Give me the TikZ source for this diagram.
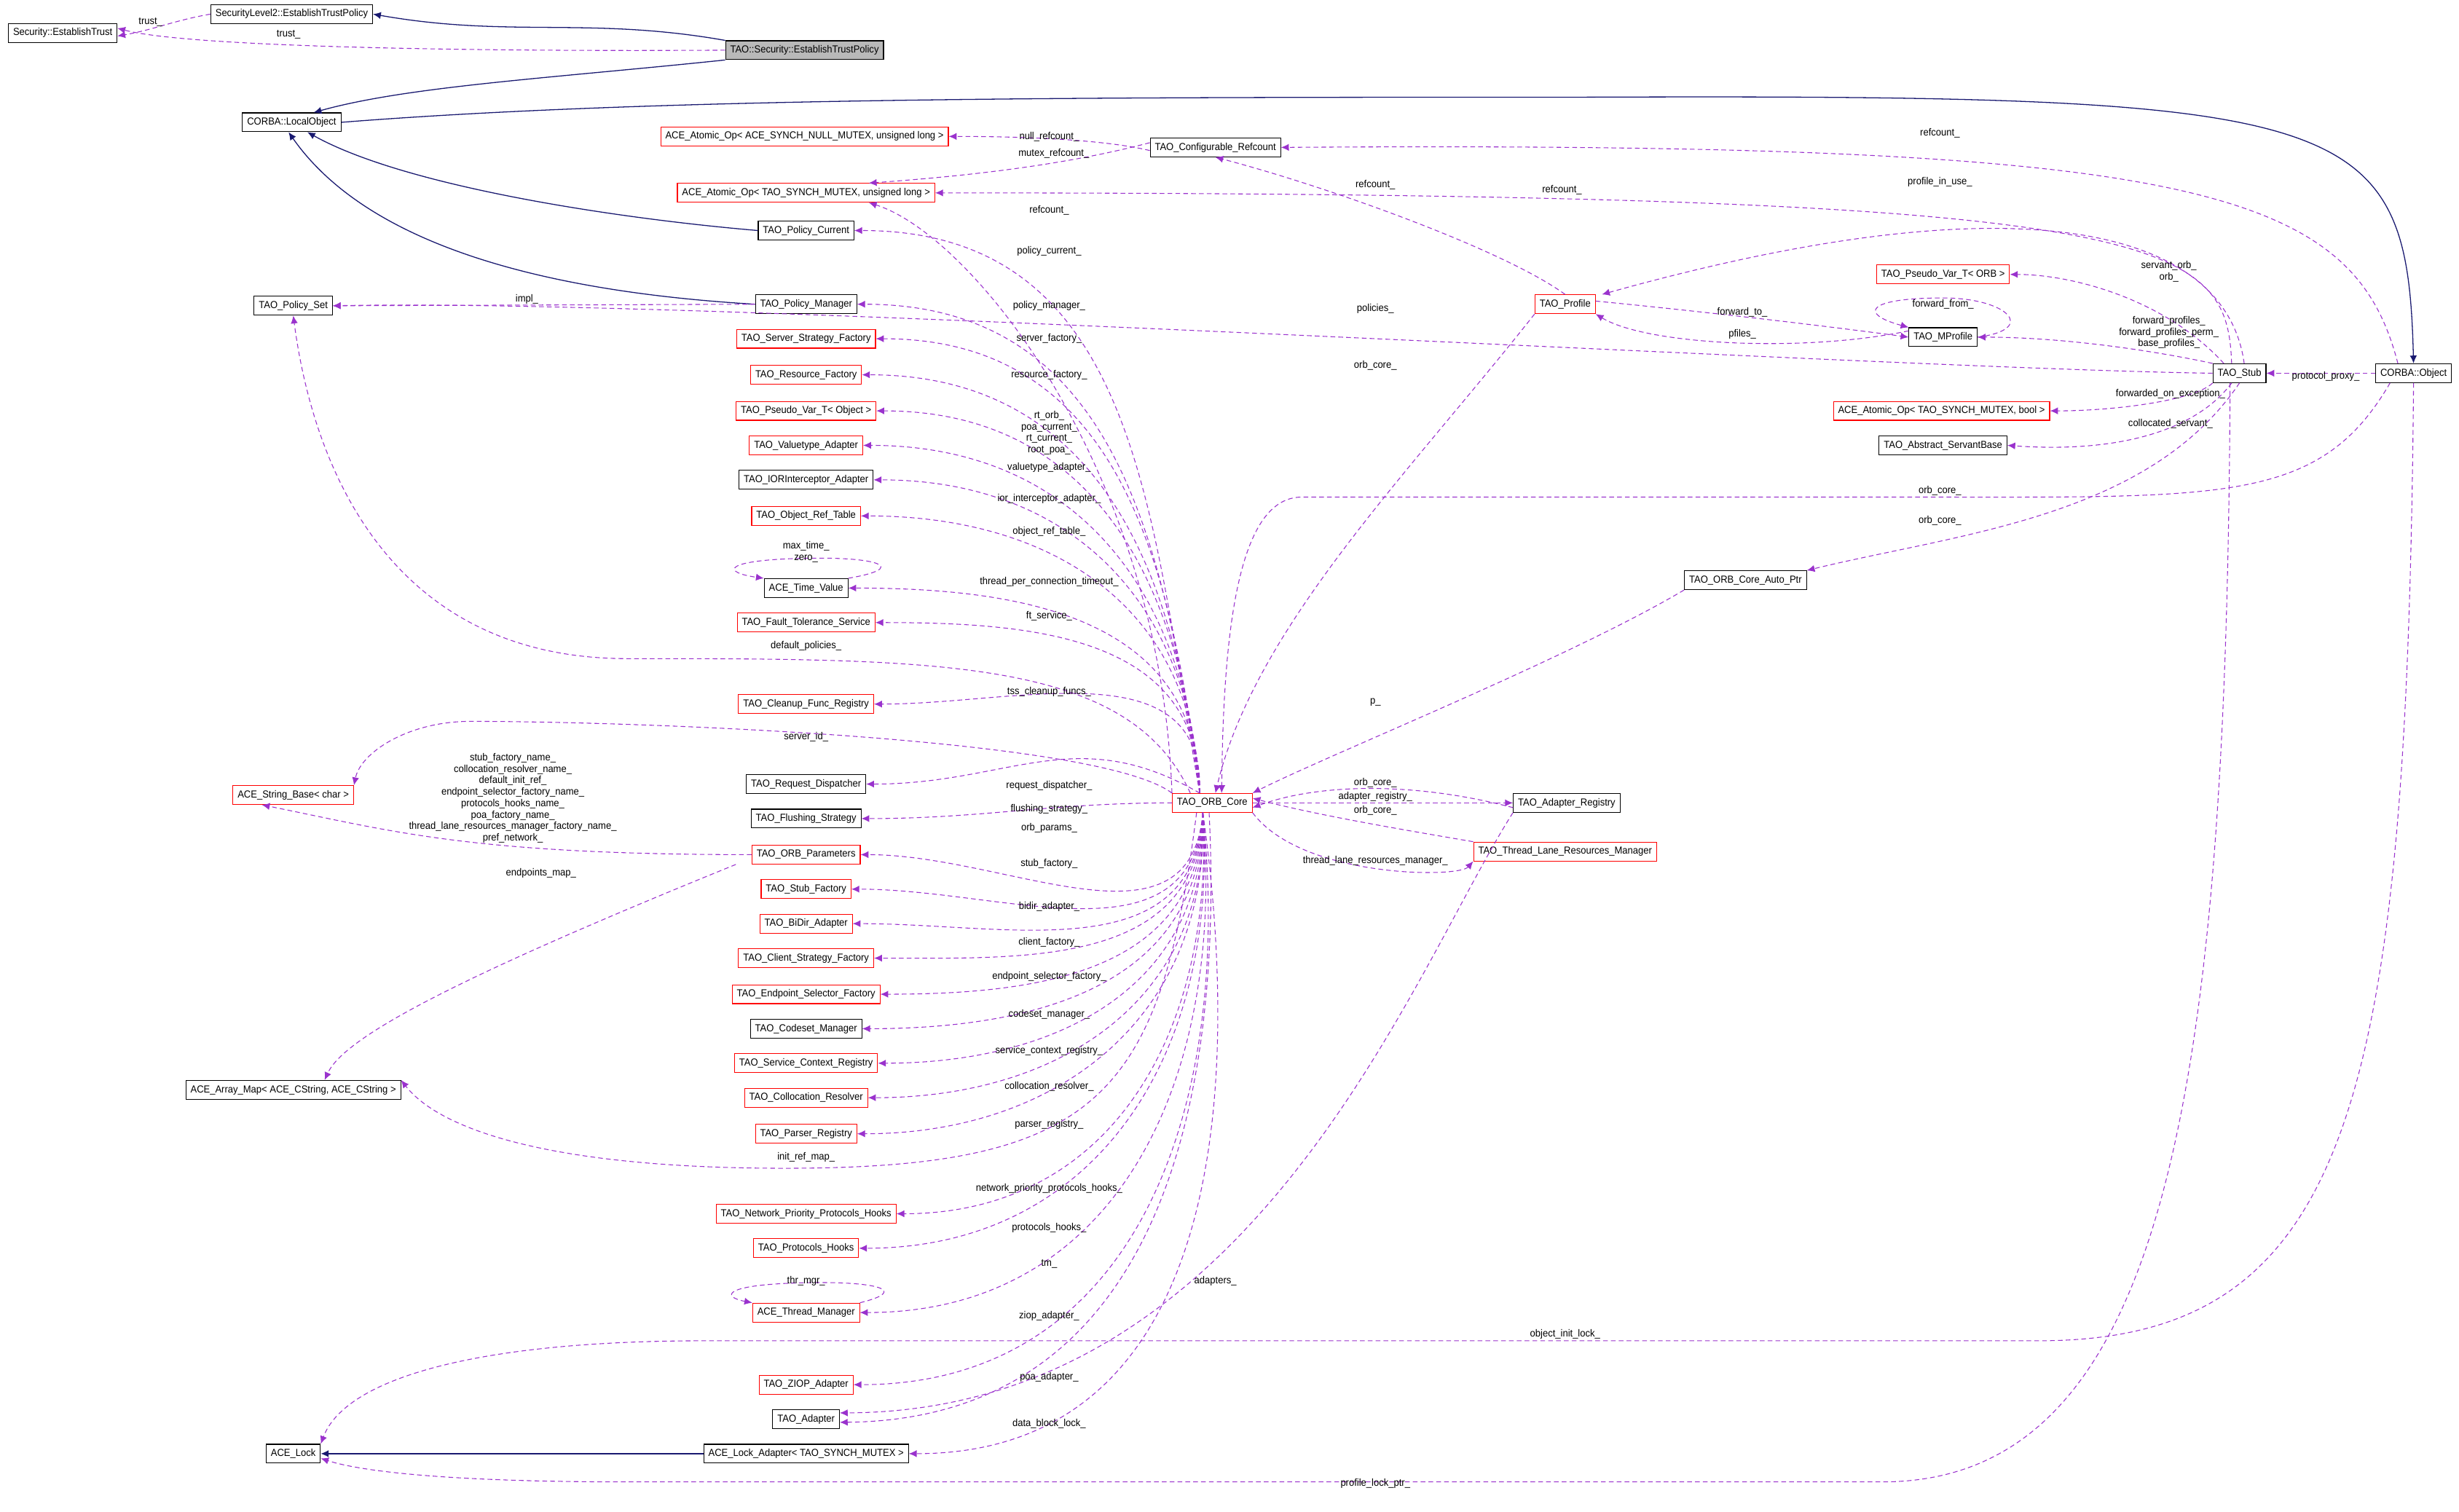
\documentclass[tikz,border=0pt]{standalone}
\usepackage{fontspec}
\setmainfont[FakeStretch=0.93]{Liberation Sans}
\usetikzlibrary{arrows.meta}
\definecolor{usec}{HTML}{9A32CD}
\definecolor{inhc}{HTML}{191970}
\tikzset{
 box/.style={draw,rectangle,inner xsep=3pt,inner ysep=0pt,minimum height=12pt,font=\fontsize{6.5}{7.3}\selectfont,line width=0.5pt},
 rbox/.style={box,draw=red},
 lbl/.style={font=\fontsize{6.5}{7.3}\selectfont,align=center,inner sep=0pt},
 use/.style={draw=usec,dash pattern=on 3pt off 2pt,line width=0.5pt,arrows={-{Latex[length=5pt,width=4.5pt,fill=usec,color=usec]}}},
 inh/.style={draw=inhc,line width=0.6pt,-{Latex[length=5pt,width=4.5pt,color=inhc,fill=inhc]}}
}
\begin{document}
\begin{tikzpicture}[x=1pt,y=-1pt]
\useasboundingbox (0,0) rectangle (1568,964);
% nodes
\node[box] (sl2) at (186,9) {SecurityLevel2::EstablishTrustPolicy};
\node[box] (set) at (40,21) {Security::EstablishTrust};
\node[box,fill=gray!55] (tsec) at (513,32) {TAO::Security::EstablishTrustPolicy};
\node[box] (lo) at (186,78) {CORBA::LocalObject};
\node[rbox] (aonull) at (513,87) {ACE\_Atomic\_Op< ACE\_SYNCH\_NULL\_MUTEX, unsigned long >};
\node[box] (cref) at (775,94) {TAO\_Configurable\_Refcount};
\node[rbox] (aoul) at (514,123) {ACE\_Atomic\_Op< TAO\_SYNCH\_MUTEX, unsigned long >};
\node[box] (pc) at (514,147) {TAO\_Policy\_Current};
\node[box] (pset) at (187,195) {TAO\_Policy\_Set};
\node[box] (pm) at (514,194) {TAO\_Policy\_Manager};
\node[rbox] (prof) at (998,194) {TAO\_Profile};
\node[rbox] (pvorb) at (1239,175) {TAO\_Pseudo\_Var\_T< ORB >};
\node[box] (mprof) at (1239,215) {TAO\_MProfile};
\node[box] (stub) at (1428,238) {TAO\_Stub};
\node[box] (cobj) at (1539,238) {CORBA::Object};
\node[rbox] (ssf) at (514,216) {TAO\_Server\_Strategy\_Factory};
\node[rbox] (rf) at (514,239) {TAO\_Resource\_Factory};
\node[rbox] (pvobj) at (514,262) {TAO\_Pseudo\_Var\_T< Object >};
\node[rbox] (va) at (514,284) {TAO\_Valuetype\_Adapter};
\node[box] (iora) at (514,306) {TAO\_IORInterceptor\_Adapter};
\node[rbox] (ort) at (514,329) {TAO\_Object\_Ref\_Table};
\node[rbox] (aobool) at (1238,262) {ACE\_Atomic\_Op< TAO\_SYNCH\_MUTEX, bool >};
\node[box] (asb) at (1239,284) {TAO\_Abstract\_ServantBase};
\node[box] (tv) at (514,375) {ACE\_Time\_Value};
\node[rbox] (fts) at (514,397) {TAO\_Fault\_Tolerance\_Service};
\node[box] (oap) at (1113,370) {TAO\_ORB\_Core\_Auto\_Ptr};
\node[rbox] (cfr) at (514,449) {TAO\_Cleanup\_Func\_Registry};
\node[rbox] (sb) at (187,507) {ACE\_String\_Base< char >};
\node[box] (rd) at (514,500) {TAO\_Request\_Dispatcher};
\node[rbox] (core) at (773,512) {TAO\_ORB\_Core};
\node[box] (ar) at (999,512) {TAO\_Adapter\_Registry};
\node[box] (fs) at (514,522) {TAO\_Flushing\_Strategy};
\node[rbox] (op) at (514,545) {TAO\_ORB\_Parameters};
\node[rbox] (tlrm) at (998,543) {TAO\_Thread\_Lane\_Resources\_Manager};
\node[rbox] (sf) at (514,567) {TAO\_Stub\_Factory};
\node[rbox] (bda) at (514,589) {TAO\_BiDir\_Adapter};
\node[rbox] (csf) at (514,611) {TAO\_Client\_Strategy\_Factory};
\node[rbox] (esf) at (514,634) {TAO\_Endpoint\_Selector\_Factory};
\node[box] (cm) at (514,656) {TAO\_Codeset\_Manager};
\node[rbox] (scr) at (514,678) {TAO\_Service\_Context\_Registry};
\node[rbox] (cr) at (514,700) {TAO\_Collocation\_Resolver};
\node[box] (am) at (187,695) {ACE\_Array\_Map< ACE\_CString, ACE\_CString >};
\node[rbox] (pr) at (514,723) {TAO\_Parser\_Registry};
\node[rbox] (nph) at (514,774) {TAO\_Network\_Priority\_Protocols\_Hooks};
\node[rbox] (ph) at (514,796) {TAO\_Protocols\_Hooks};
\node[rbox] (tm) at (514,837) {ACE\_Thread\_Manager};
\node[rbox] (zio) at (514,883) {TAO\_ZIOP\_Adapter};
\node[box] (ad) at (514,905) {TAO\_Adapter};
\node[box] (lock) at (187,927) {ACE\_Lock};
\node[box] (la) at (514,927) {ACE\_Lock\_Adapter< TAO\_SYNCH\_MUTEX >};

% inheritance
\draw[inh] (tsec.north west) to[out=170,in=-10] (sl2.east);
\draw[inh] (tsec.south west) .. controls (350,50) and (260,55) .. ([xshift=14pt]lo.north);
\draw[inh] (lo.east) .. controls (420,62) and (700,62) .. (1000,62) .. controls (1500,60) and (1535,70) .. (cobj.north);
\draw[inh] (pc.west) .. controls (400,140) and (260,120) .. ([xshift=10pt]lo.south);
\draw[inh] (pm.west) .. controls (330,185) and (230,150) .. ([xshift=-2pt]lo.south);
\draw[inh] (la.west) -- (lock.east);

% usage
\draw[use] (sl2.west) to[out=190,in=10] ([yshift=-2pt]set.east);
\draw[use] (tsec.west) .. controls (300,33) and (120,30) .. ([yshift=3pt]set.east);
\draw[use] ([yshift=-2pt]cref.west) .. controls (700,88) and (640,87) .. (aonull.east);
\draw[use] ([yshift=3pt]cref.west) .. controls (680,105) and (620,112) .. ([xshift=40pt]aoul.north);
\draw[use] ([xshift=-10pt]cobj.north) .. controls (1500,120) and (1400,90) .. (cref.east);
\draw[use] ([xshift=-5pt]stub.north) .. controls (1420,150) and (1380,123) .. (aoul.east);
\draw[use] (prof.north) .. controls (960,160) and (850,120) .. (cref.south);
\draw[use] (core.north west) .. controls (740,300) and (620,150) .. ([xshift=40pt]aoul.south);
\draw[use] ([xshift=3pt]stub.north) .. controls (1420,150) and (1300,110) .. ([xshift=4pt]prof.north east);
\draw[use] (stub.west) .. controls (1200,235) and (450,190) .. (pset.east);
\draw[use] (pm.west) -- (pset.east);
\draw[use] ([yshift=2pt]prof.east) .. controls (1100,200) and (1180,210) .. (mprof.west);
\draw[use] ([yshift=4pt]mprof.west) .. controls (1150,225) and (1050,220) .. (prof.south east);
\draw[use] (mprof.east) .. controls (1300,210) and (1280,190) .. (1239,190) .. controls (1190,190) and (1185,200) .. (mprof.north west);
\draw[use] ([xshift=-10pt]stub.north) .. controls (1380,190) and (1320,175) .. (pvorb.east);
\draw[use] (stub.north west) .. controls (1380,225) and (1320,215) .. (mprof.east);
\draw[use] (cobj.west) -- (stub.east);
\draw[use] (stub.south west) .. controls (1400,255) and (1350,262) .. (aobool.east);
\draw[use] ([xshift=-5pt]stub.south) .. controls (1400,275) and (1350,289) .. (asb.east);
\draw[use] ([xshift=-15pt]cobj.south) .. controls (1480,320) and (1420,317) .. (1237,317) -- (830,317) .. controls (790,317) and (780,400) .. ([xshift=6pt]core.north);
\draw[use] (stub.south) .. controls (1370,330) and (1250,340) .. (oap.north east);
\draw[use] (prof.south west) .. controls (900,300) and (800,400) .. ([xshift=2pt]core.north);
\draw[use] (oap.south west) .. controls (1000,420) and (850,480) .. (core.north east);
\draw[use] (cobj.south) .. controls (1535,700) and (1500,855) .. (1300,855) -- (450,855) .. controls (300,855) and (220,880) .. (lock.north east);
\draw[use] ([xshift=-6pt]stub.south) .. controls (1420,700) and (1380,945) .. (1200,945) -- (400,945) .. controls (260,945) and (220,935) .. ([yshift=-3pt]lock.east);
% adapter registry & tlrm
\draw[use] ([yshift=-3pt]ar.west) .. controls (900,498) and (840,500) .. ([yshift=-3pt]core.east);
\draw[use] (core.east) -- (ar.west);
\draw[use] (tlrm.north west) .. controls (900,530) and (840,520) .. ([yshift=3pt]core.east);
\draw[use] (core.south east) .. controls (830,560) and (930,560) .. (tlrm.south west);
\draw[use] (ar.south west) .. controls (900,620) and (800,900) .. ([yshift=4pt]ad.east);
% self loops
\draw[use] (tv.north east) .. controls (580,362) and (560,355) .. (514,356) .. controls (460,357) and (460,365) .. (tv.north west);
\draw[use] (tm.north east) .. controls (580,823) and (560,817) .. (514,818) .. controls (460,819) and (460,827) .. (tm.north west);
% orb params
\draw[use] (op.west) .. controls (300,545) and (250,530) .. ([xshift=-20pt]sb.south);
\draw[use] ([xshift=-10pt]op.south west) .. controls (300,620) and (220,660) .. ([xshift=20pt]am.north);
% core -> upper left column
\foreach \t/\o in {pc/100,pm/98,ssf/97,rf/96,pvobj/95,va/94,iora/93,ort/92,tv/91,fts/90,cfr/88,rd/150}{
  \draw[use] ([xshift=-8pt]core.north) to[out=\o,in=0,looseness=1.1] (\t.east);
}
\draw[use] ([xshift=-14pt]core.north) .. controls (720,420) and (600,420) .. (400,420) .. controls (250,420) and (200,300) .. (pset.south);
\draw[use] (core.north west) .. controls (700,470) and (400,460) .. (300,460) .. controls (260,460) and (230,480) .. (sb.north east);
\draw[use] (core.west) to[out=180,in=0] (fs.east);
\foreach \t/\o in {op/265,sf/266,bda/267,csf/268,esf/269,cm/270,scr/271,cr/272,pr/272,nph/273,ph/274,tm/275,zio/276,la/278}{
  \draw[use] ([xshift=-6pt]core.south) to[out=\o,in=0,looseness=1.1] (\t.east);
}
\draw[use] ([xshift=-10pt]core.south) .. controls (740,700) and (700,745) .. (500,745) .. controls (350,745) and (280,720) .. (am.north east);
\draw[use] ([xshift=-2pt]core.south) .. controls (780,700) and (740,905) .. ([yshift=-2pt]ad.east);

% labels
\node[lbl] at (96,14) {trust\_};
\node[lbl] at (184,22) {trust\_};
\node[lbl] at (669,87) {null\_refcount\_};
\node[lbl] at (672,98) {mutex\_refcount\_};
\node[lbl] at (1237,85) {refcount\_};
\node[lbl] at (996,121) {refcount\_};
\node[lbl] at (877,118) {refcount\_};
\node[lbl] at (669,134) {refcount\_};
\node[lbl] at (669,160) {policy\_current\_};
\node[lbl] at (1237,116) {profile\_in\_use\_};
\node[lbl] at (669,195) {policy\_manager\_};
\node[lbl] at (336,191) {impl\_};
\node[lbl] at (877,197) {policies\_};
\node[lbl] at (1111,199) {forward\_to\_};
\node[lbl] at (1111,213) {pfiles\_};
\node[lbl] at (1239,194) {forward\_from\_};
\node[lbl] at (1383,173) {servant\_orb\_\\orb\_};
\node[lbl] at (1383,212) {forward\_profiles\_\\forward\_profiles\_perm\_\\base\_profiles\_};
\node[lbl] at (1483,240) {protocol\_proxy\_};
\node[lbl] at (669,216) {server\_factory\_};
\node[lbl] at (669,239) {resource\_factory\_};
\node[lbl] at (877,233) {orb\_core\_};
\node[lbl] at (669,276) {rt\_orb\_\\poa\_current\_\\rt\_current\_\\root\_poa\_};
\node[lbl] at (1384,251) {forwarded\_on\_exception\_};
\node[lbl] at (1384,270) {collocated\_servant\_};
\node[lbl] at (669,298) {valuetype\_adapter\_};
\node[lbl] at (669,318) {ior\_interceptor\_adapter\_};
\node[lbl] at (1237,313) {orb\_core\_};
\node[lbl] at (1237,332) {orb\_core\_};
\node[lbl] at (669,339) {object\_ref\_table\_};
\node[lbl] at (514,352) {max\_time\_\\zero\_};
\node[lbl] at (669,371) {thread\_per\_connection\_timeout\_};
\node[lbl] at (669,393) {ft\_service\_};
\node[lbl] at (514,412) {default\_policies\_};
\node[lbl] at (669,441) {tss\_cleanup\_funcs\_};
\node[lbl] at (877,448) {p\_};
\node[lbl] at (514,470) {server\_id\_};
\node[lbl] at (327,509) {stub\_factory\_name\_\\collocation\_resolver\_name\_\\default\_init\_ref\_\\endpoint\_selector\_factory\_name\_\\protocols\_hooks\_name\_\\poa\_factory\_name\_\\thread\_lane\_resources\_manager\_factory\_name\_\\pref\_network\_};
\node[lbl] at (669,501) {request\_dispatcher\_};
\node[lbl] at (877,499) {orb\_core\_};
\node[lbl] at (877,508) {adapter\_registry\_};
\node[lbl] at (669,516) {flushing\_strategy\_};
\node[lbl] at (877,517) {orb\_core\_};
\node[lbl] at (669,528) {orb\_params\_};
\node[lbl] at (345,557) {endpoints\_map\_};
\node[lbl] at (877,549) {thread\_lane\_resources\_manager\_};
\node[lbl] at (669,551) {stub\_factory\_};
\node[lbl] at (669,578) {bidir\_adapter\_};
\node[lbl] at (669,601) {client\_factory\_};
\node[lbl] at (669,623) {endpoint\_selector\_factory\_};
\node[lbl] at (669,647) {codeset\_manager\_};
\node[lbl] at (669,670) {service\_context\_registry\_};
\node[lbl] at (669,693) {collocation\_resolver\_};
\node[lbl] at (669,717) {parser\_registry\_};
\node[lbl] at (514,738) {init\_ref\_map\_};
\node[lbl] at (669,758) {network\_priority\_protocols\_hooks\_};
\node[lbl] at (669,783) {protocols\_hooks\_};
\node[lbl] at (775,817) {adapters\_};
\node[lbl] at (669,806) {tm\_};
\node[lbl] at (514,817) {thr\_mgr\_};
\node[lbl] at (669,839) {ziop\_adapter\_};
\node[lbl] at (998,851) {object\_init\_lock\_};
\node[lbl] at (669,878) {poa\_adapter\_};
\node[lbl] at (669,908) {data\_block\_lock\_};
\node[lbl] at (877,946) {profile\_lock\_ptr\_};
\end{tikzpicture}
\end{document}
